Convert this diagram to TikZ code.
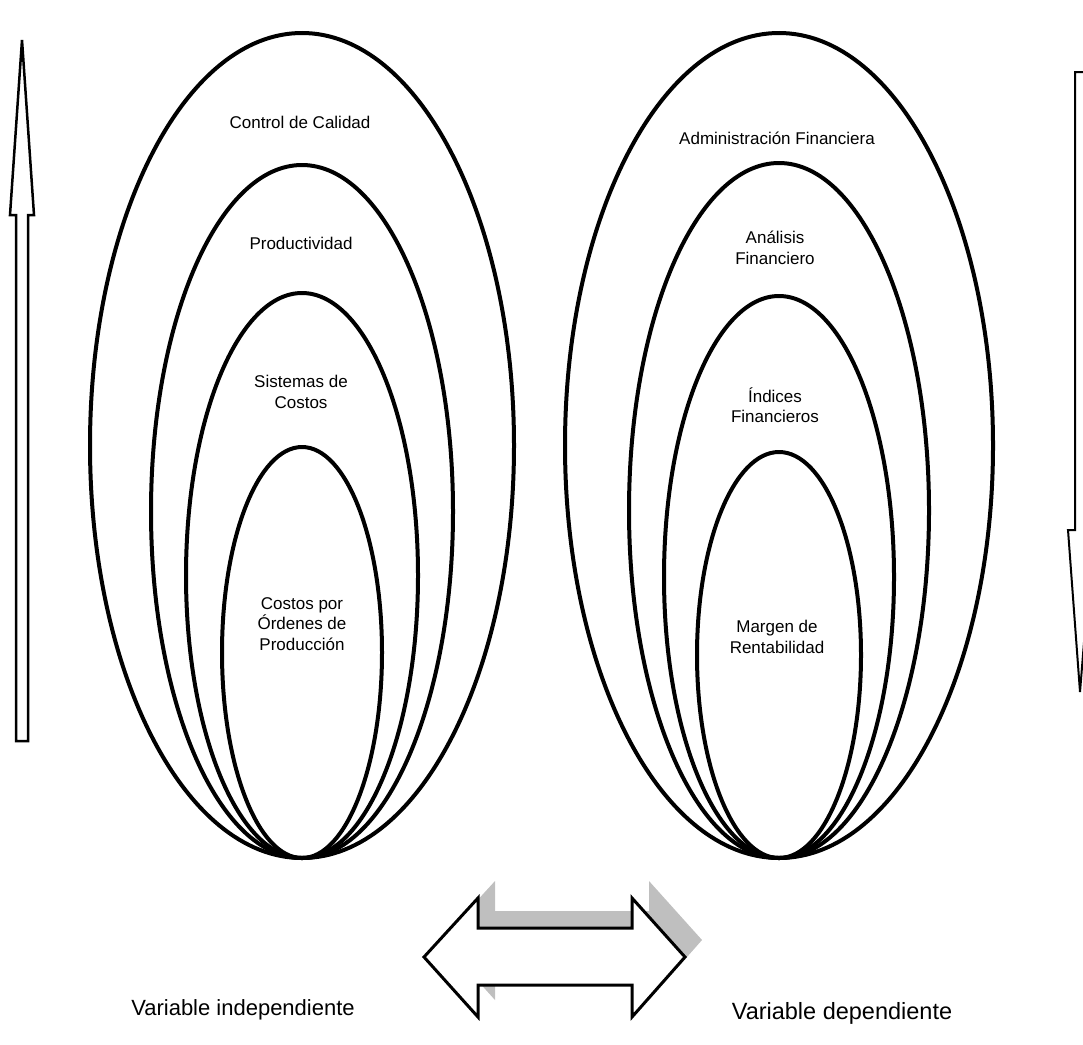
\documentclass[tikz,border=0pt]{standalone}
\usepackage{fontspec}
\setmainfont{Liberation Sans}
\begin{document}
\begin{tikzpicture}
  [
  x=1pt, y=-1pt, line join=miter,
  ring/.style={line width=4pt, draw=black},
  tag/.style={align=center, font=\fontsize{17}{20.5}\selectfont, inner sep=0pt},
  axislabel/.style={font=\fontsize{22}{26}\selectfont, inner sep=0pt},
  hollow/.style={line width=2.5pt, draw=black, fill=white},
  shade/.style={fill=black!25, draw=none}
  ]
\useasboundingbox (0,0) rectangle (1083,1044);

% nested ellipses, all touching at the bottom
\foreach \cy/\a/\b in {445.5/212/412.5, 511.5/151/346.5, 575.5/116/282.5, 652.5/80/205.5} {
  \draw[ring] (302,\cy) ellipse ({\a pt} and {\b pt});
}
\foreach \cy/\a/\b in {445.5/214/412.5, 510.5/150/347.5, 577/115/281, 655/82/203} {
  \draw[ring] (779,\cy) ellipse ({\a pt} and {\b pt});
}

\node[tag] (calidad) at (300,122) {Control de Calidad};
\node[tag] (product) at (301,243) {Productividad};
\node[tag] (sistemas) at (301,392) {Sistemas de\\Costos};
\node[tag] (ordenes) at (302,624) {Costos por\\Órdenes de\\Producción};

\node[tag] (admin) at (777,138) {Administración Financiera};
\node[tag] (analisis) at (775,248) {Análisis\\Financiero};
\node[tag] (indices) at (775,405) {Índices\\Financieros};
\node[tag] (margen) at (777,637) {Margen de\\Rentabilidad};

% side arrows
\draw[hollow] (22,40) -- (34,215) -- (28,215) -- (28,741) -- (16,741) -- (16,215) -- (10,215) -- cycle;
\draw[hollow, line width=2pt] (1075,72) -- (1087,72) -- (1087,530) -- (1093,530) -- (1080,692) -- (1068,530) -- (1075,530) -- cycle;

% double arrow with shadow
\def\twoway{(424,957) -- (478,898) -- (478,928) -- (632,928) -- (632,898) -- (685,957) -- (632,1017) -- (632,985) -- (478,985) -- (478,1017) -- cycle}
\fill[shade, shift={(17,-17)}] \twoway;
\draw[hollow, line width=3pt] \twoway;

\node[axislabel] (indep) at (243,1010) {Variable independiente};
\node[axislabel, font=\fontsize{23.5}{28}\selectfont] (dep) at (842,1013) {Variable dependiente};
\end{tikzpicture}
\end{document}
